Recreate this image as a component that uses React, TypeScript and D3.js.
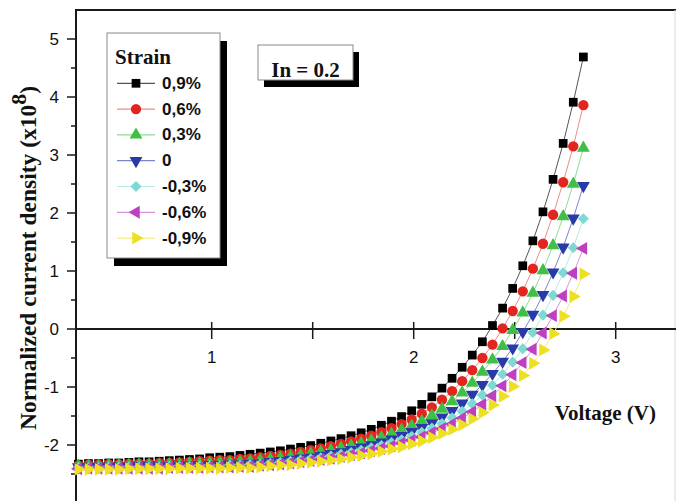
import React from 'react';
import * as d3 from 'd3';

// Applied voltage (V) for every sample
const VOLTAGE = [
  0.34, 0.39, 0.44, 0.49, 0.54, 0.59, 0.64, 0.69, 0.74, 0.79,
  0.84, 0.89, 0.94, 0.99, 1.04, 1.09, 1.14, 1.19, 1.24, 1.29,
  1.34, 1.39, 1.44, 1.49, 1.54, 1.59, 1.64, 1.69, 1.74, 1.79,
  1.84, 1.89, 1.94, 1.99, 2.04, 2.09, 2.14, 2.19, 2.24, 2.29,
  2.34, 2.39, 2.44, 2.49, 2.54, 2.59, 2.64, 2.69, 2.74, 2.79, 2.84,
];

// Normalized current density (x10^8) for each strain level
const J_STRAIN_P09 = [
  -2.33, -2.32, -2.32, -2.31, -2.31, -2.30, -2.29, -2.29, -2.28, -2.27,
  -2.26, -2.25, -2.24, -2.22, -2.21, -2.20, -2.18, -2.16, -2.14, -2.12,
  -2.10, -2.07, -2.04, -2.01, -1.97, -1.93, -1.89, -1.84, -1.79, -1.73,
  -1.66, -1.59, -1.51, -1.41, -1.30, -1.17, -1.02, -0.85, -0.66, -0.45,
  -0.22, 0.06, 0.36, 0.70, 1.09, 1.52, 2.02, 2.58, 3.20, 3.91, 4.69,
];
const J_STRAIN_P06 = [
  -2.35, -2.34, -2.34, -2.33, -2.33, -2.32, -2.32, -2.32, -2.31, -2.31,
  -2.30, -2.29, -2.28, -2.27, -2.26, -2.26, -2.24, -2.23, -2.21, -2.19,
  -2.17, -2.15, -2.12, -2.09, -2.06, -2.02, -1.98, -1.94, -1.89, -1.84,
  -1.78, -1.71, -1.64, -1.56, -1.46, -1.35, -1.22, -1.07, -0.90, -0.71,
  -0.50, -0.27, 0.01, 0.31, 0.65, 1.04, 1.47, 1.97, 2.53, 3.15, 3.86,
];
const J_STRAIN_P03 = [
  -2.36, -2.36, -2.36, -2.35, -2.35, -2.35, -2.34, -2.34, -2.34, -2.33,
  -2.33, -2.32, -2.32, -2.31, -2.30, -2.30, -2.29, -2.28, -2.26, -2.24,
  -2.22, -2.20, -2.18, -2.15, -2.12, -2.09, -2.05, -2.01, -1.97, -1.92,
  -1.87, -1.81, -1.74, -1.67, -1.59, -1.49, -1.38, -1.25, -1.10, -0.93,
  -0.74, -0.53, -0.30, -0.02, 0.28, 0.62, 1.01, 1.44, 1.94, 2.50, 3.12,
];
const J_STRAIN_0 = [
  -2.38, -2.37, -2.37, -2.37, -2.37, -2.37, -2.36, -2.36, -2.36, -2.36,
  -2.35, -2.35, -2.35, -2.34, -2.34, -2.33, -2.33, -2.32, -2.31, -2.29,
  -2.27, -2.25, -2.23, -2.21, -2.18, -2.15, -2.12, -2.08, -2.04, -2.00,
  -1.95, -1.90, -1.84, -1.77, -1.70, -1.62, -1.52, -1.41, -1.28, -1.13,
  -0.96, -0.77, -0.56, -0.33, -0.05, 0.25, 0.59, 0.98, 1.41, 1.91, 2.47,
];
const J_STRAIN_M03 = [
  -2.39, -2.39, -2.39, -2.38, -2.38, -2.38, -2.38, -2.38, -2.38, -2.37,
  -2.37, -2.37, -2.36, -2.36, -2.36, -2.35, -2.35, -2.34, -2.33, -2.32,
  -2.30, -2.28, -2.26, -2.24, -2.22, -2.19, -2.16, -2.13, -2.09, -2.05,
  -2.01, -1.96, -1.91, -1.85, -1.78, -1.71, -1.63, -1.53, -1.42, -1.29,
  -1.14, -0.97, -0.78, -0.57, -0.34, -0.06, 0.24, 0.58, 0.97, 1.40, 1.90,
];
const J_STRAIN_M06 = [
  -2.41, -2.40, -2.40, -2.40, -2.40, -2.40, -2.40, -2.40, -2.40, -2.39,
  -2.39, -2.39, -2.39, -2.38, -2.38, -2.38, -2.37, -2.37, -2.35, -2.34,
  -2.33, -2.31, -2.29, -2.27, -2.25, -2.23, -2.20, -2.17, -2.14, -2.10,
  -2.06, -2.02, -1.97, -1.92, -1.86, -1.79, -1.72, -1.64, -1.54, -1.43,
  -1.30, -1.15, -0.98, -0.79, -0.58, -0.35, -0.07, 0.23, 0.57, 0.96, 1.39,
];
const J_STRAIN_M09 = [
  -2.42, -2.42, -2.42, -2.42, -2.42, -2.41, -2.41, -2.41, -2.41, -2.41,
  -2.40, -2.40, -2.40, -2.40, -2.40, -2.39, -2.39, -2.39, -2.38, -2.36,
  -2.35, -2.34, -2.32, -2.30, -2.28, -2.26, -2.24, -2.21, -2.18, -2.15,
  -2.11, -2.07, -2.03, -1.98, -1.93, -1.87, -1.80, -1.73, -1.65, -1.55,
  -1.44, -1.31, -1.16, -0.99, -0.80, -0.59, -0.36, -0.08, 0.22, 0.56, 0.95,
];

const STRAIN_LABELS = ['0,9%', '0,6%', '0,3%', '0', '-0,3%', '-0,6%', '-0,9%'];
const SERIES_VALUES = [
  J_STRAIN_P09, J_STRAIN_P06, J_STRAIN_P03, J_STRAIN_0,
  J_STRAIN_M03, J_STRAIN_M06, J_STRAIN_M09,
];

const Y_TICKS = [-2, -1, 0, 1, 2, 3, 4, 5];
const Y_MINOR_TICKS = [-2.5, -1.5, -0.5, 0.5, 1.5, 2.5, 3.5, 4.5];
const X_TICKS = [1, 2, 3];
const X_MINOR_TICKS = [1.5, 2.5];

type Shape = 'square' | 'circle' | 'up' | 'down' | 'diamond' | 'left' | 'right';
const STYLES: { fill: string; line: string; shape: Shape }[] = [
  { fill: '#000000', line: '#555555', shape: 'square' },
  { fill: '#e2261f', line: '#f08a84', shape: 'circle' },
  { fill: '#3fbf45', line: '#8fdc92', shape: 'up' },
  { fill: '#283aa6', line: '#7d86cc', shape: 'down' },
  { fill: '#7fd9d3', line: '#b5ebe7', shape: 'diamond' },
  { fill: '#bd3fc2', line: '#dc92df', shape: 'left' },
  { fill: '#ece021', line: '#f3ec7a', shape: 'right' },
];

const W = 676;
const H = 501;
const AXIS_LEFT = 76;
const FRAME_TOP = 10;

const x = d3.scaleLinear().domain([0, 3]).range([9.7, 615.7]);
const y = d3.scaleLinear().domain([0, 5]).range([329, 39]);

const triangle = d3.symbol().type(d3.symbolTriangle).size(72)() as string;
const SHAPES: Record<Shape, { d: string; rot: number }> = {
  square: { d: d3.symbol().type(d3.symbolSquare).size(76)() as string, rot: 0 },
  circle: { d: d3.symbol().type(d3.symbolCircle).size(84)() as string, rot: 0 },
  up: { d: triangle, rot: 0 },
  down: { d: triangle, rot: 180 },
  left: { d: triangle, rot: -90 },
  right: { d: triangle, rot: 90 },
  diamond: { d: d3.symbol().type(d3.symbolSquare).size(62)() as string, rot: 45 },
};

function Marker({ cx, cy, shape, fill }: { cx: number; cy: number; shape: Shape; fill: string }) {
  const s = SHAPES[shape];
  return <path d={s.d} fill={fill} transform={`translate(${cx},${cy}) rotate(${s.rot})`} />;
}

const SERIF = "'Liberation Serif', 'Times New Roman', serif";
const SANS = "'Liberation Sans', Arial, sans-serif";

export default function App() {
  const line = d3
    .line<number>()
    .x((_, i) => x(VOLTAGE[i]))
    .y((v) => y(v));

  const axisColor = '#1a1a1a';
  const xAxisY = y(0);

  return (
    <svg
      width={W}
      height={H}
      viewBox={`0 0 ${W} ${H}`}
      style={{ position: 'absolute', left: 0, top: 0, background: '#fff' }}
    >
      <rect width={W} height={H} fill="#fff" />

      {/* frame */}
      <line x1={AXIS_LEFT} x2={W} y1={FRAME_TOP} y2={FRAME_TOP} stroke={axisColor} strokeWidth={2} />
      <line x1={W - 1} x2={W - 1} y1={FRAME_TOP} y2={H} stroke="#d8d8d8" strokeWidth={1} />
      <line x1={AXIS_LEFT} x2={AXIS_LEFT} y1={FRAME_TOP - 1} y2={H} stroke={axisColor} strokeWidth={2} />

      {/* y ticks */}
      {Y_TICKS.map((t) => (
        <g key={`yt${t}`}>
          <line x1={AXIS_LEFT - 9} x2={AXIS_LEFT} y1={y(t)} y2={y(t)} stroke={axisColor} strokeWidth={1.5} />
          <text
            x={59}
            y={y(t)}
            textAnchor="end"
            dominantBaseline="central"
            fontFamily={SANS}
            fontSize={17}
            fill="#111"
          >
            {t}
          </text>
        </g>
      ))}
      {Y_MINOR_TICKS.map((t) => (
        <line key={`ym${t}`} x1={AXIS_LEFT - 5} x2={AXIS_LEFT} y1={y(t)} y2={y(t)} stroke={axisColor} strokeWidth={1.5} />
      ))}

      {/* x axis at zero current */}
      <line x1={AXIS_LEFT} x2={W} y1={xAxisY} y2={xAxisY} stroke={axisColor} strokeWidth={2} />
      {[...X_TICKS, ...X_MINOR_TICKS].map((t) => (
        <line key={`xt${t}`} x1={x(t)} x2={x(t)} y1={xAxisY - 7} y2={xAxisY + 10} stroke={axisColor} strokeWidth={1.5} />
      ))}
      {X_TICKS.map((t) => (
        <text key={`xl${t}`} x={x(t)} y={xAxisY + 34} textAnchor="middle" fontFamily={SANS} fontSize={17} fill="#111">
          {t}
        </text>
      ))}

      {/* curves */}
      {SERIES_VALUES.map((vals, k) => (
        <path key={`ln${k}`} d={line(vals) ?? ''} fill="none" stroke={STYLES[k].line} strokeWidth={1} />
      ))}
      {SERIES_VALUES.map((vals, k) => (
        <g key={`mk${k}`}>
          {vals.map((v, i) => (
            <Marker key={i} cx={x(VOLTAGE[i])} cy={y(v)} shape={STYLES[k].shape} fill={STYLES[k].fill} />
          ))}
        </g>
      ))}

      {/* axis titles */}
      <text
        transform="translate(36,258) rotate(-90)"
        textAnchor="middle"
        fontFamily={SERIF}
        fontWeight="bold"
        fontSize={23.5}
        fill="#111"
      >
        Normalized current density (x10
        <tspan dy={-10} fontSize={22}>8</tspan>
        <tspan dy={10}>)</tspan>
      </text>
      <text x={656} y={420} textAnchor="end" fontFamily={SERIF} fontWeight="bold" fontSize={21} fill="#111">
        Voltage (V)
      </text>

      {/* legend */}
      <rect x={114} y={41} width={113} height={225} fill="#000" />
      <rect x={107} y={33} width={113} height={225} fill="#fff" stroke="#8a8a8a" strokeWidth={1} />
      <text x={115} y={64} fontFamily={SERIF} fontWeight="bold" fontSize={21} fill="#111">
        Strain
      </text>
      {STRAIN_LABELS.map((lab, k) => {
        const ly = 83.3 + k * 25.8;
        return (
          <g key={`lg${k}`}>
            <line x1={117} x2={155} y1={ly} y2={ly} stroke={STYLES[k].line} strokeWidth={1.2} />
            <Marker cx={136} cy={ly} shape={STYLES[k].shape} fill={STYLES[k].fill} />
            <text
              x={162}
              y={ly}
              dominantBaseline="central"
              fontFamily={SANS}
              fontWeight="bold"
              fontSize={17}
              fill="#111"
            >
              {lab}
            </text>
          </g>
        );
      })}

      {/* parameter box */}
      <rect x={264} y={52} width={95} height={35} fill="#000" />
      <rect x={258} y={45} width={95} height={35} fill="#fff" stroke="#8a8a8a" strokeWidth={1} />
      <text x={305.5} y={70} textAnchor="middle" dominantBaseline="central" fontFamily={SERIF} fontWeight="bold" fontSize={21} fill="#111">
        In = 0.2
      </text>
    </svg>
  );
}
